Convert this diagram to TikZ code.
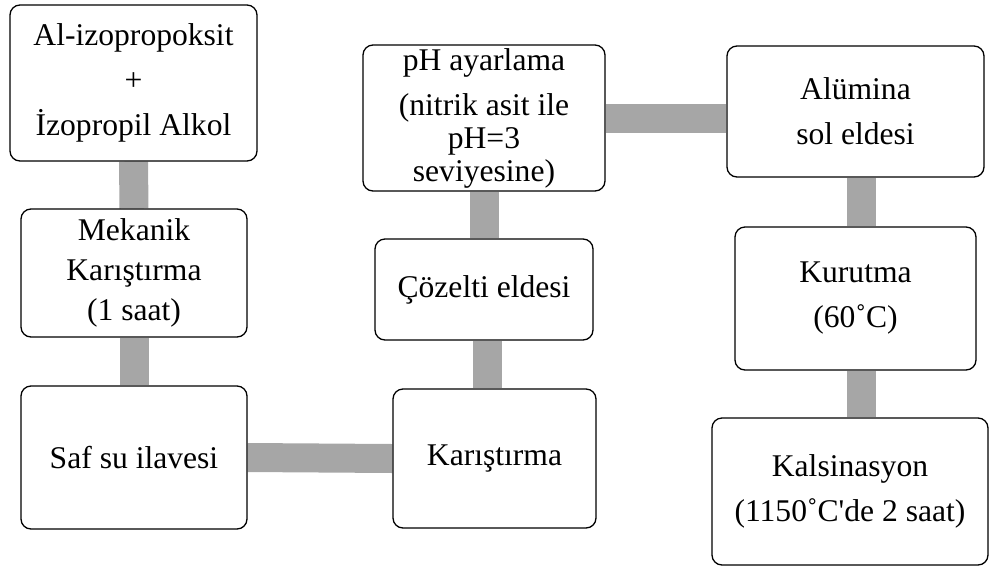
\documentclass[tikz,border=0pt]{standalone}
\usepackage{fontspec}
\setmainfont{Liberation Serif}
\usetikzlibrary{backgrounds}
\definecolor{bargray}{RGB}{166,166,166}

\begin{document}
\begin{tikzpicture}[x=1pt, y=-1pt,
    stepbox/.style={draw, line width=1.3pt, rounded corners=10pt, fill=white,
        align=center, inner sep=0pt, font=\fontsize{31.6}{45}\selectfont},
    bar/.style={draw=bargray, line width=29pt}]
    \useasboundingbox (0,0) rectangle (989,566);

    % left column
    \node[stepbox, minimum width=247pt, minimum height=156pt] (alkol) at (133.5,83)
        {Al-izopropoksit\\+\\İzopropil Alkol};
    \node[stepbox, minimum width=226pt, minimum height=128pt,
        font=\fontsize{31.6}{40}\selectfont] (mekanik) at (134,273)
        {Mekanik\\Karıştırma\\(1 saat)};
    \node[stepbox, minimum width=226pt, minimum height=143pt] (safsu) at (134,457.5)
        {Saf su ilavesi};

    % middle column
    \node[stepbox, minimum width=203pt, minimum height=139pt] (karis) at (494.5,458.5)
        {Karıştırma};
    \node[stepbox, minimum width=218pt, minimum height=101pt] (cozelti) at (484,289.5)
        {Çözelti eldesi};
    \node[stepbox, minimum width=242pt, minimum height=146pt,
        font=\fontsize{31.6}{33}\selectfont] (ph) at (484,118)
        {pH ayarlama\\[12pt](nitrik asit ile\\pH=3\\seviyesine)};

    % right column
    \node[stepbox, minimum width=257pt, minimum height=131pt] (alumina) at (855.5,111.5)
        {Alümina\\sol eldesi};
    \node[stepbox, minimum width=241pt, minimum height=143pt] (kurutma) at (855.5,298.5)
        {Kurutma\\(60˚C)};
    \node[stepbox, minimum width=276pt, minimum height=147pt] (kalsin) at (850,491.5)
        {Kalsinasyon\\(1150˚C\textquotesingle de 2 saat)};

    % connectors
    \begin{scope}[on background layer]
        \draw[bar] (alkol.south) -- (mekanik.north);
        \draw[bar] (mekanik.south) -- (safsu.north);
        \draw[bar] (safsu.east) -- (karis.west);
        \draw[bar] ([xshift=3pt]cozelti.south) -- ([xshift=3pt]cozelti.south |- karis.north);
        \draw[bar] (ph.south) -- (cozelti.north);
        \draw[bar] (ph.east) -- (ph.east -| alumina.west);
        \draw[bar] ([xshift=5.5pt]alumina.south) -- ([xshift=5.5pt]kurutma.north);
        \draw[bar] ([xshift=5.5pt]kurutma.south) -- ([xshift=5.5pt]kurutma.south |- kalsin.north);
    \end{scope}
\end{tikzpicture}
\end{document}
